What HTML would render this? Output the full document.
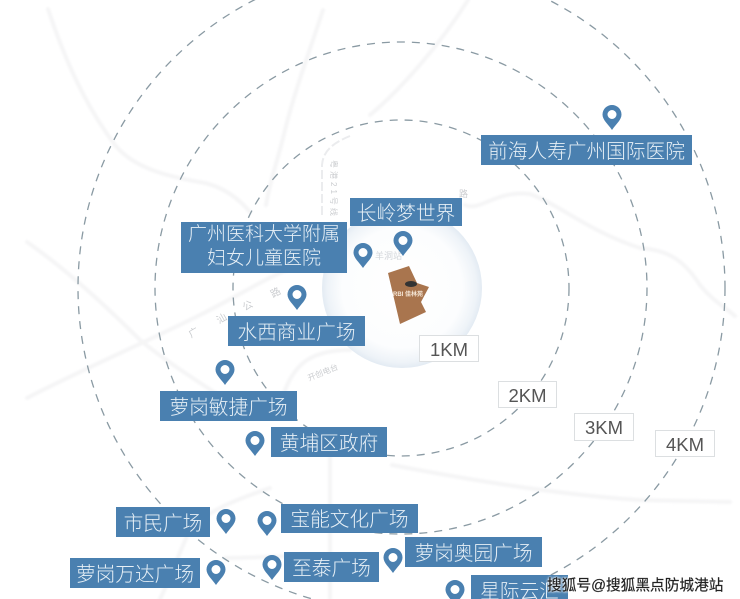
<!DOCTYPE html>
<html><head><meta charset="utf-8">
<style>
html,body{margin:0;padding:0;background:#fff}
#c{position:relative;width:740px;height:599px;overflow:hidden;background:#fff;font-family:"Liberation Sans","Noto Sans CJK SC",sans-serif;filter:blur(.35px)}
svg{position:absolute;left:0;top:0}
.l{position:absolute;box-sizing:border-box;padding-bottom:2px;background:#4a80b0;color:#e6eff6;font-size:19.700px;display:flex;align-items:center;justify-content:center;text-align:center;white-space:nowrap;font-weight:300}
.k{position:absolute;background:#fff;border:1px solid #dcdfe1;box-sizing:border-box;color:#555;font-size:18.500px;padding-top:2px;display:flex;align-items:center;justify-content:center}
.w{position:absolute;left:547px;top:574px;font-size:14.700px;color:#222;white-space:nowrap;-webkit-text-stroke:.2px #222;text-shadow:0 0 2px #fff,0 0 2px #fff,0 0 3px #fff}
</style></head><body><div id="c">
<svg width="740" height="599" viewBox="0 0 740 599">
<defs>
<radialGradient id="b" cx="50%" cy="50%" r="50%">
<stop offset="0" stop-color="#ffffff"/><stop offset=".75" stop-color="#fcfdfe"/><stop offset=".93" stop-color="#eef3f8"/><stop offset="1" stop-color="#e3ebf3"/>
</radialGradient>
<filter id="s"><feGaussianBlur stdDeviation="1"/></filter>
<symbol id="p" viewBox="0 0 20 25" overflow="visible">
<path fill-rule="evenodd" fill="#4a80b0" d="M10 25C6 19 .5 15 .5 9.5a9.5 9.5 0 0 1 19 0C19.500 15 14 19 10 25ZM10 5a4.500 4.500 0 1 0 0 9 4.500 4.500 0 0 0 0-9Z"/>
</symbol>
</defs>
<g fill="none" stroke="#f5f5f6" stroke-width="4" stroke-linecap="round" filter="url(#s)">
<path d="M48 9C65 60 85 105 115 145C135 170 175 178 205 183C225 188 240 200 250 212"/>
<path d="M323 10C310 50 295 90 285 130C278 160 270 180 266 205"/>
<path d="M465 205C480 212 495 190 530 194C560 205 590 232 640 248C670 250 685 262 700 285C712 300 722 305 735 316"/>
<path d="M468 0C440 45 400 90 370 115"/>
<path d="M27 398C85 368 140 345 200 315C240 295 270 275 300 265"/>
<path d="M27 242C60 265 100 300 140 340C170 365 220 395 240 410"/>
<path d="M392 465C470 480 560 495 640 500L730 502"/>
<path d="M270 488C235 500 205 512 190 530C180 550 172 575 160 599"/>
<path d="M330 455L330 599"/>
<path d="M225 558C240 558 265 557 285 556"/>
<path d="M285 390C295 365 310 350 350 350"/>
</g>
<path d="M322 215V165C323 150 335 142 350 136" fill="none" stroke="#ebecee" stroke-width="2" stroke-dasharray="9 3"/>
<circle cx="402" cy="288" r="80" fill="url(#b)"/>
<g fill="none" stroke="#8a9aa3" stroke-width="1.300" stroke-dasharray="8 7">
<circle cx="401" cy="288" r="168"/>
<circle cx="401" cy="288" r="246"/>
<circle cx="401.500" cy="288" r="323.500"/>
</g>
<g font-family="Liberation Sans,Noto Sans CJK SC,sans-serif" fill="#cbcdd0">
<text x="331" y="160" font-size="8" letter-spacing="3" transform="rotate(90 331 160)">粤港21号线</text>
<text x="375" y="259" font-size="9" fill="#d2d6da">羊洞站</text>
<text x="191" y="338" font-size="10" transform="rotate(-30 191 338)">广</text>
<text x="219" y="324" font-size="10" transform="rotate(-30 219 324)">汕</text>
<text x="245" y="311" font-size="10" transform="rotate(-30 245 311)">公</text>
<text x="273" y="298" font-size="10" transform="rotate(-30 273 298)">路</text>
<text x="309" y="381" font-size="8" transform="rotate(-22 309 381)">开创电台</text>
<text x="459" y="197" font-size="9">路</text>
</g>
<polygon points="388,273 409,266 417,283 429,287 421,302 426,312 400,324" fill="#a9754e"/>
<ellipse cx="411" cy="284" rx="6" ry="3" fill="#333"/>
<text x="393" y="296" font-size="6" fill="#f6e8d8" font-family="Liberation Sans,Noto Sans CJK SC,sans-serif" font-weight="700">RBI 佳林苑</text>
<use href="#p" x="602" y="105" width="20" height="25"/>
<use href="#p" x="393" y="231" width="20" height="25"/>
<use href="#p" x="353" y="243" width="20" height="25"/>
<use href="#p" x="287" y="285" width="20" height="25"/>
<use href="#p" x="215" y="360" width="20" height="25"/>
<use href="#p" x="245" y="431" width="20" height="25"/>
<use href="#p" x="216" y="509" width="20" height="25"/>
<use href="#p" x="257" y="511" width="20" height="25"/>
<use href="#p" x="262" y="555" width="20" height="25"/>
<use href="#p" x="206" y="560" width="20" height="25"/>
<use href="#p" x="383" y="548" width="20" height="25"/>
<use href="#p" x="445" y="580" width="20" height="25"/>
</svg>
<div class="l" style="left:350px;top:198px;width:112px;height:28px">长岭梦世界</div>
<div class="l" style="left:181px;top:222px;width:166px;height:51px;font-size:19px;line-height:24px">广州医科大学附属<br>妇女儿童医院</div>
<div class="l" style="left:228px;top:316px;width:137px;height:30px">水西商业广场</div>
<div class="l" style="left:160px;top:391px;width:137px;height:30px">萝岗敏捷广场</div>
<div class="l" style="left:271px;top:427px;width:116px;height:30px">黄埔区政府</div>
<div class="l" style="left:116px;top:507px;width:94px;height:30px">市民广场</div>
<div class="l" style="left:281px;top:504px;width:137px;height:29px">宝能文化广场</div>
<div class="l" style="left:70px;top:558px;width:130px;height:30px">萝岗万达广场</div>
<div class="l" style="left:284px;top:552px;width:95px;height:30px">至泰广场</div>
<div class="l" style="left:405px;top:537px;width:137px;height:30px">萝岗奥园广场</div>
<div class="l" style="left:471px;top:575px;width:97px;height:30px">星际云汇</div>
<div class="l" style="left:481px;top:135px;width:211px;height:30px">前海人寿广州国际医院</div>
<div class="k" style="left:419px;top:335px;width:60px;height:27px">1KM</div>
<div class="k" style="left:498px;top:381px;width:59px;height:27px">2KM</div>
<div class="k" style="left:574px;top:413px;width:60px;height:28px">3KM</div>
<div class="k" style="left:655px;top:430px;width:60px;height:27px">4KM</div>
<div class="w">搜狐号@搜狐黑点防城港站</div>
</div></body></html>
